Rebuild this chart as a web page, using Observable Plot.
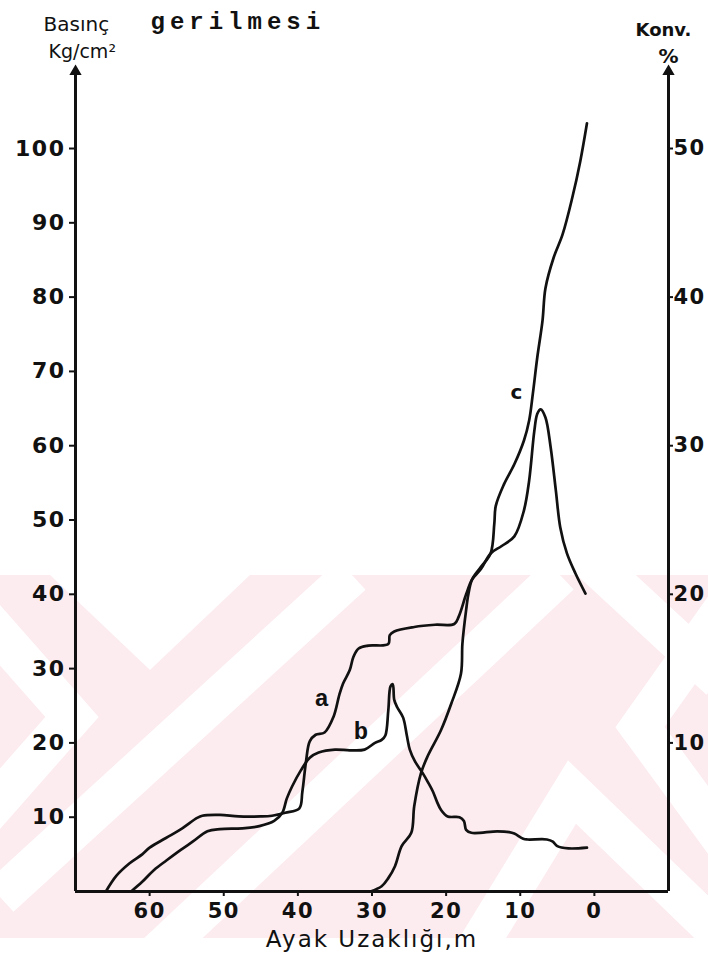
<!DOCTYPE html>
<html><head><meta charset="utf-8">
<script src="https://cdn.jsdelivr.net/npm/d3@7"></script>
<script src="https://cdn.jsdelivr.net/npm/@observablehq/plot@0.6"></script>
<style>
html,body{margin:0;padding:0;background:#fff;}
#wrap{position:relative;width:708px;height:959px;overflow:hidden;}
#bg{position:absolute;left:0;top:0;}
#chart{position:absolute;left:0;top:0;}
#chart svg{background:transparent !important;}
</style></head><body>
<div id="wrap"><svg id="bg" width="708" height="959"></svg><div id="chart"></div></div>
<script>
// ---- data (distance from face in m, stress in kg/cm², convergence in %) ----
const aDist   = [65.9,64.5,62.7,61.0,60.0,57.8,55.6,53.6,52.9,50.5,48.0,45.0,43.5,41.7,39.8,39.4,38.9,38.4,37.6,36.4,35.2,34.4,33.9,33.0,32.5,31.8,30.5,27.8,27.6,27.0,24.3,21.5,18.9,18.3,17.3,16.5,15.3,14.0,12.5,10.8,9.5,8.8,8.1,7.7,7.25,6.6,5.9,5.2,4.6,3.7,2.55,1.2];
const aStress = [0,2.1,3.8,5.0,5.9,7.2,8.5,9.9,10.2,10.3,10.1,10.1,10.2,10.6,11.2,13.4,17.5,20.2,21.1,21.4,23.5,26.5,28.0,29.8,31.6,32.7,33.1,33.3,34.5,35.0,35.6,35.9,36.0,37.0,40.0,42.0,43.4,45.5,46.5,47.8,51.3,55.3,62.0,64.3,64.9,63.8,59.8,54.0,49.0,45.5,42.8,40.1];

const bDist   = [62.5,61.0,59.4,57.7,55.8,54.2,52.2,50.5,47.5,45.2,43.2,42.1,41.5,40.8,39.6,38.4,37.2,35.0,33.0,31.0,29.6,28.7,28.2,27.8,27.5,27.2,27.0,26.6,25.8,25.3,24.9,24.2,23.2,22.5,21.8,21.2,20.7,19.8,18.2,17.6,17.3,16.6,13.1,11.5,10.8,9.6,9.0,6.4,5.6,5.0,3.5,1.0];
const bStress = [0,1.3,2.9,4.2,5.6,6.7,8.1,8.4,8.5,8.8,9.5,10.6,12.5,14.1,16.3,18.0,18.7,19.1,19.0,19.1,20.0,20.4,21.0,24.4,27.6,27.9,25.8,24.8,23.4,21.0,19.1,17.5,16.0,14.8,13.5,12.0,11.0,10.1,10.0,9.5,8.3,7.9,8.1,8.0,7.8,7.1,7.0,7.0,6.7,6.1,5.8,5.9];

const cDist = [30.2,28.7,27.8,26.9,26.0,24.7,24.3,23.4,22.5,20.7,19.3,18.0,17.8,17.3,17.0,16.5,15.3,14.0,13.5,13.3,12.2,10.8,9.5,8.8,8.3,7.7,7.0,6.6,5.5,4.3,3.0,1.9,1.0];
const cConv = [0,0.35,0.9,1.7,3.05,3.95,5.75,7.95,9.1,10.85,12.65,14.65,16.7,18.95,20.0,21.0,21.85,22.75,24.75,25.95,27.4,28.75,30.35,31.7,33.5,35.95,38.4,40.6,42.65,44.2,46.65,49.15,51.7];

const leftTicks  = [10,20,30,40,50,60,70,80,90,100];   // kg/cm²
const rightTicks = [10,20,30,40,50];                   // %
const xTicks     = [60,50,40,30,20,10,0];              // m
const convToStress = 2;                                // right axis: 1 % = 2 units of left axis

const curveNames  = ["a","b","c"];
const curveDist   = [36.8,31.5,10.5];
const curveValue  = [26.0,21.5,67.1];

// ---- tables ----
const A = aDist.map((d,i)=>({dist:d, v:aStress[i]}));
const B = bDist.map((d,i)=>({dist:d, v:bStress[i]}));
const C = cDist.map((d,i)=>({dist:d, v:cConv[i]*convToStress}));
const L = curveNames.map((n,i)=>({name:n, dist:curveDist[i], v:curveValue[i]}));

const ink = "#111";
const lineOpts = {x:"dist", y:"v", stroke:ink, strokeWidth:2.7, curve:"catmull-rom", strokeLinejoin:"round", strokeLinecap:"round"};

const chart = Plot.plot({
  width:708, height:959,
  marginLeft:75, marginRight:40, marginTop:70, marginBottom:68,
  style:{background:"transparent", fontFamily:"'DejaVu Sans', sans-serif", color:ink, overflow:"visible"},
  x:{domain:[70,-10]},
  y:{domain:[0,110.5]},
  marks:[
    Plot.ruleX([70,-10], {stroke:ink, strokeWidth:3}),
    Plot.ruleY([0], {stroke:ink, strokeWidth:3}),
    Plot.dot([70,-10], {x:d=>d, y:()=>110.5, symbol:"triangle", r:3.6, fill:ink, stroke:ink, dy:1}),
    Plot.axisY(leftTicks, {anchor:"left", tickSize:6, tickPadding:4, fontSize:22, fontWeight:"bold", strokeWidth:2, label:null, fill:ink}),
    Plot.axisY(rightTicks.map(t=>t*convToStress), {anchor:"right", tickSize:4, tickPadding:1, tickFormat:d=>d/convToStress, fontSize:21, fontWeight:"bold", strokeWidth:2, label:null, fill:ink}),
    Plot.axisX(xTicks, {anchor:"bottom", tickSize:5, tickPadding:7, fontSize:21, fontWeight:"bold", strokeWidth:2, label:null, fill:ink}),
    Plot.line(A, lineOpts),
    Plot.line(B, lineOpts),
    Plot.line(C, lineOpts),
    Plot.text(L.filter(d=>d.name!=="c"), {x:"dist", y:"v", text:"name", fontSize:24, fontFamily:"'Liberation Mono', monospace", fontWeight:"bold", fill:ink}),
    Plot.text(L.filter(d=>d.name==="c"), {x:"dist", y:"v", text:"name", fontSize:20, fontWeight:"bold", fill:ink}),
    // titles
    Plot.text(["Basınç"], {frameAnchor:"top-left", dx:-32, dy:-40, lineAnchor:"bottom", textAnchor:"start", fontSize:20, fill:ink}),
    Plot.text(["gerilmesi"], {frameAnchor:"top-left", dx:75, dy:-42, lineAnchor:"bottom", textAnchor:"start", fontSize:24, fontFamily:"'Liberation Mono', monospace", fontWeight:"bold", fill:ink}),
    Plot.text(["Kg/cm²"], {frameAnchor:"top-left", dx:-27, dy:-13, lineAnchor:"bottom", textAnchor:"start", fontSize:19, fill:ink}),
    Plot.text(["Konv."], {frameAnchor:"top-right", dx:-33, dy:-35, lineAnchor:"bottom", textAnchor:"start", fontSize:18, fontWeight:"bold", fill:ink}),
    Plot.text(["%"], {frameAnchor:"top-right", dx:0, dy:-8, lineAnchor:"bottom", textAnchor:"middle", fontSize:20, fontWeight:"bold", fill:ink}),
    Plot.text(["Ayak Uzaklığı,m"], {frameAnchor:"bottom", dy:55, lineAnchor:"bottom", fontSize:23, fill:ink})
  ]
});
document.getElementById("chart").appendChild(chart);

// letter spacing of the hand lettering
d3.select(chart).selectAll("text").each(function(){
  const t = this.textContent;
  if (t === "gerilmesi") this.style.letterSpacing = "5px";
  else if (t === "Ayak Uzaklığı,m") this.style.letterSpacing = "2px";
  else if (/^\d+$/.test(t)) this.style.letterSpacing = "1.5px";
});

// ---- background watermark (decoration of the scanned page) ----
const bg = d3.select("#bg");
const pink = "#fcebef";
bg.append("defs").append("clipPath").attr("id","wm").append("rect")
  .attr("x",0).attr("y",575).attr("width",708).attr("height",363);
const g = bg.append("g").attr("clip-path","url(#wm)");
g.append("rect").attr("x",0).attr("y",575).attr("width",708).attr("height",363).attr("fill",pink);
const stripes = [
  [[-40,590],[72,717],[-40,844]],
  [[0,897],[352,575]],
  [[150,960],[560,575]],
  [[460,975],[572,792],[720,935]],
  [[590,560],[720,680]],
  [[730,600],[640,727],[730,850]]
];
stripes.forEach(p=>g.append("polyline").attr("points",p.map(q=>q.join(",")).join(" "))
  .attr("fill","none").attr("stroke","#fff").attr("stroke-width",40).attr("stroke-linejoin","miter"));
g.append("polygon").attr("points","50,575 250,575 150,670").attr("fill","#fff");
</script></body></html>
